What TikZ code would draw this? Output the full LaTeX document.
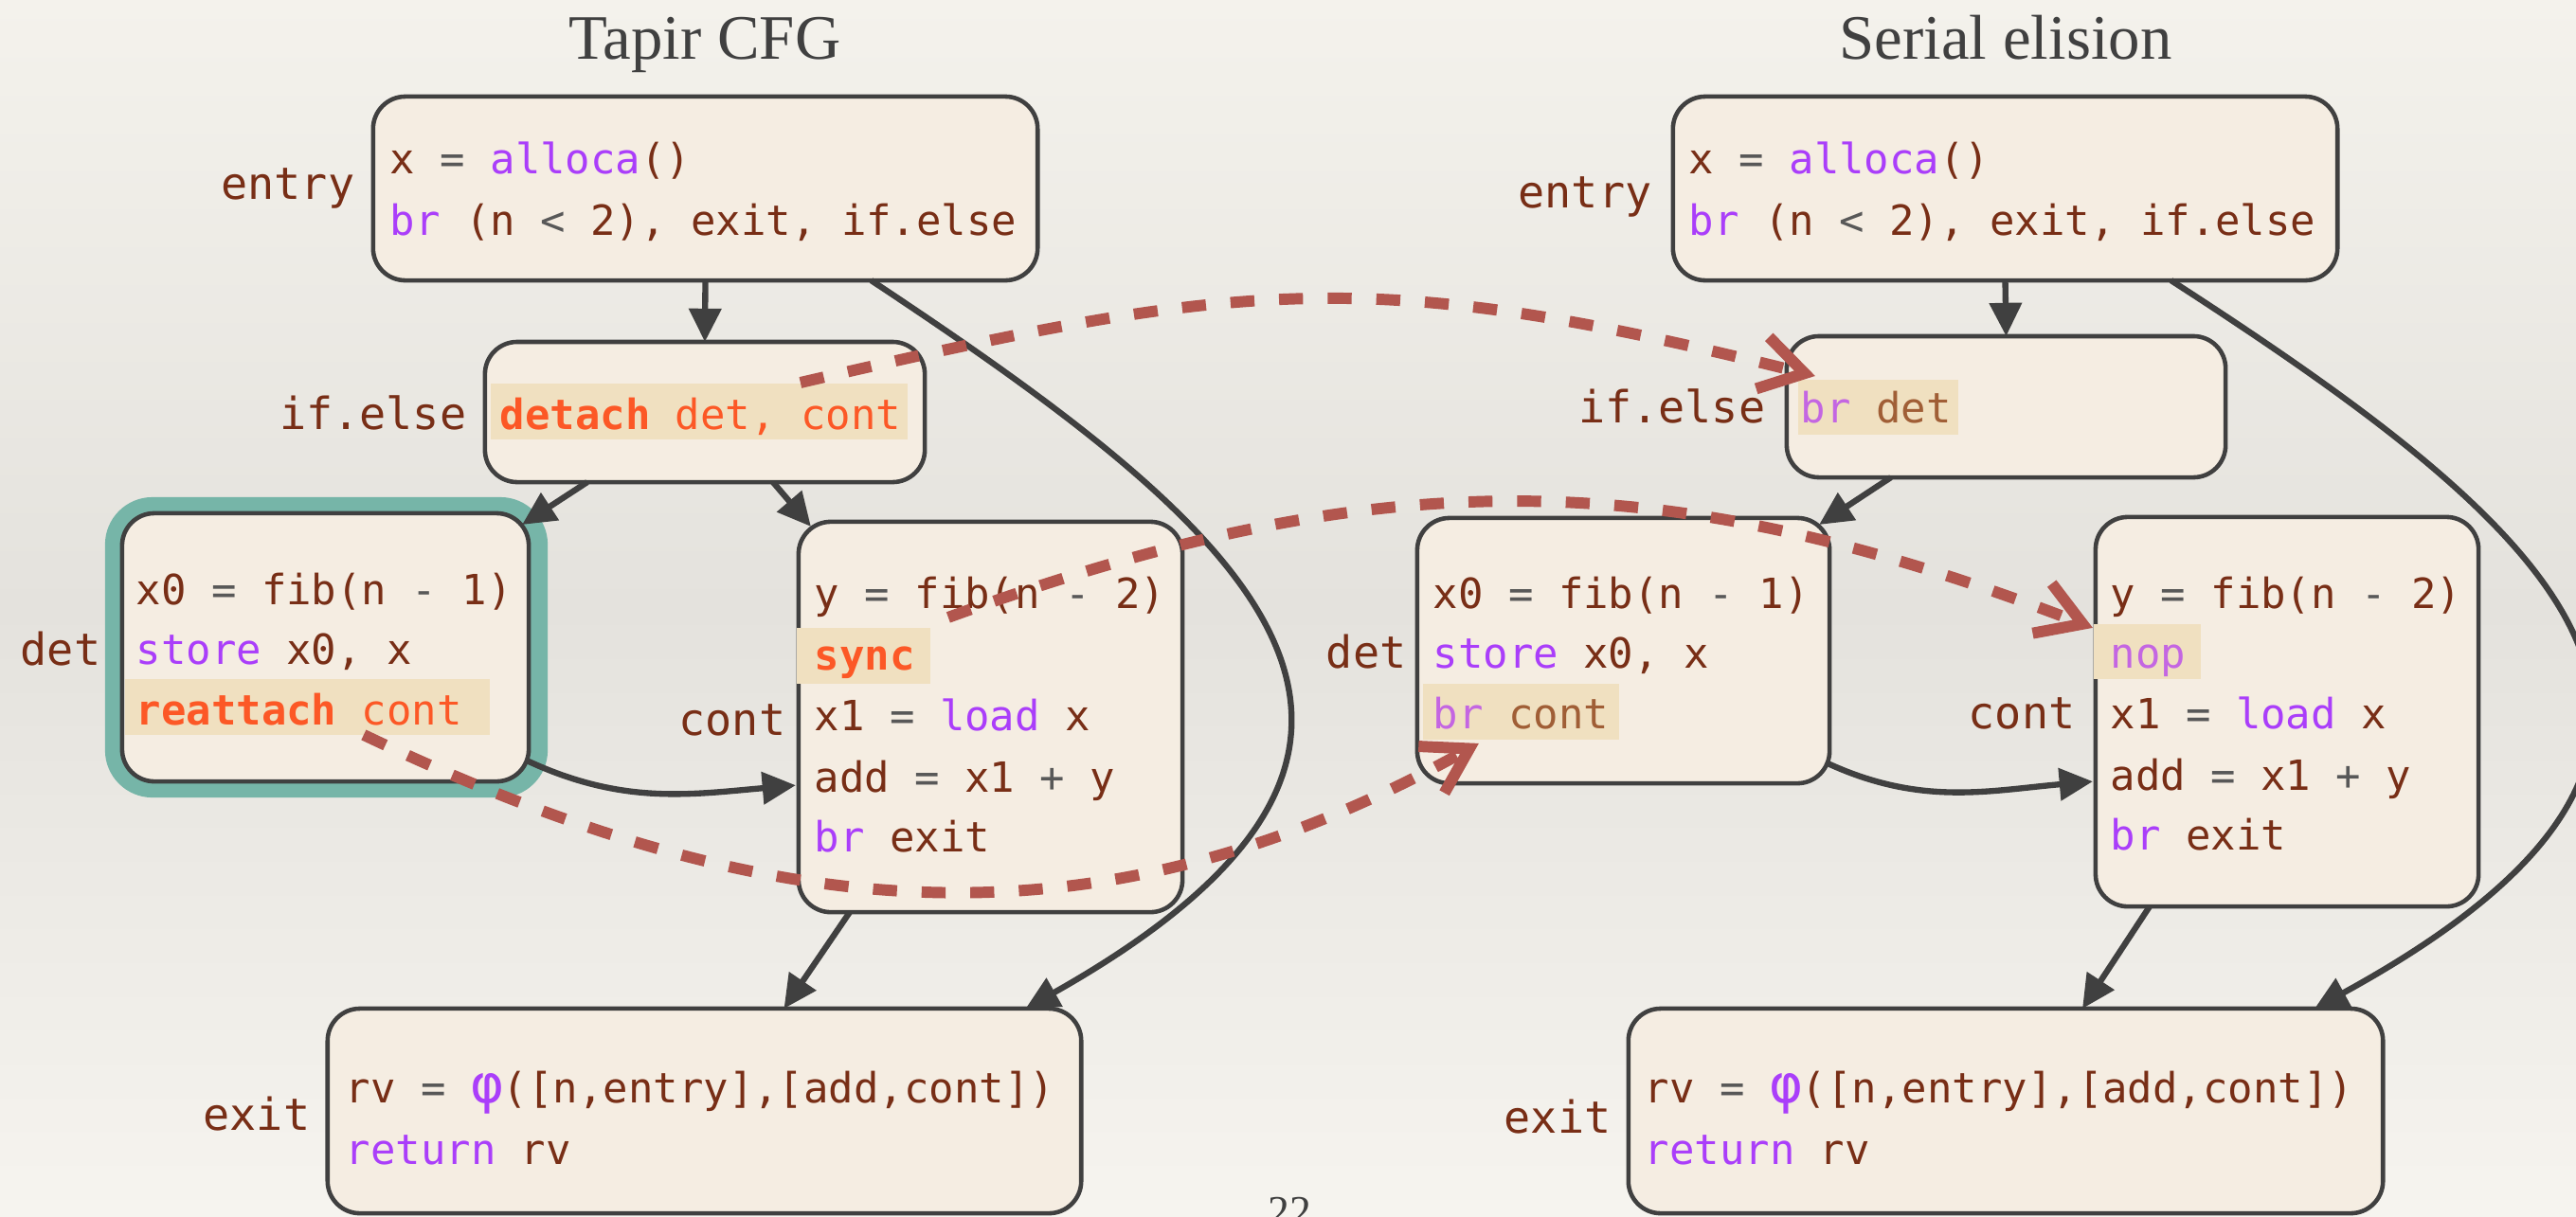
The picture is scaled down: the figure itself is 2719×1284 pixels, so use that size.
\documentclass[tikz,border=0pt]{standalone}
\usepackage{fontspec}
\setmainfont{Liberation Serif}
\newfontfamily\codefont{DejaVu Sans Mono}
\usetikzlibrary{arrows.meta,calc}

\definecolor{bgtop}{RGB}{244,242,236}
\definecolor{bgmid}{RGB}{228,226,221}
\definecolor{bgbot}{RGB}{246,244,239}
\definecolor{boxfill}{RGB}{245,237,226}
\definecolor{boxline}{RGB}{64,64,64}
\definecolor{codebrown}{RGB}{120,46,22}
\definecolor{kwpurple}{RGB}{170,62,250}
\definecolor{oppgray}{RGB}{88,88,88}
\definecolor{hotorange}{RGB}{252,88,38}
\definecolor{fadepurple}{RGB}{196,102,226}
\definecolor{fadebrown}{RGB}{160,94,54}
\definecolor{hlbg}{RGB}{240,224,192}
\definecolor{tealring}{RGB}{118,181,168}
\definecolor{dashred}{RGB}{178,86,78}
\definecolor{titlegray}{RGB}{64,64,64}

% syntax colouring for the IR listings
\newcommand\kwd[1]{\textcolor{kwpurple}{#1}}
\newcommand\opr[1]{\textcolor{oppgray}{#1}}
\newcommand\hot[1]{\textcolor{hotorange}{#1}}
\newcommand\hotb[1]{\textcolor{hotorange}{\bfseries #1}}
\newcommand\fkw[1]{\textcolor{fadepurple}{#1}}
\newcommand\fbr[1]{\textcolor{fadebrown}{#1}}
\newcommand\phisym{\textcolor{kwpurple}{\fontsize{16}{16}\selectfont φ}}

\begin{document}
\begin{tikzpicture}[x=0.01cm, y=-0.01cm,
  block/.style={draw=boxline, line width=1.3pt, fill=boxfill, rounded corners=0.34cm, inner sep=0pt, outer sep=0pt},
  codeline/.style={anchor=base west, inner sep=0pt, text=codebrown, font=\codefont\fontsize{12.5}{15}\selectfont},
  blocklabel/.style={anchor=base east, inner sep=0pt, text=codebrown, font=\codefont\fontsize{13.3}{16}\selectfont},
  paneltitle/.style={anchor=base, inner sep=0pt, text=titlegray, font=\fontsize{19}{22}\selectfont},
  flow/.style={draw=boxline, line width=1.8pt, -{Triangle[length=10pt,width=9.5pt]}},
  elide/.style={draw=dashred, line width=3.4pt, dash pattern=on 7.2pt off 7.4pt, -{Straight Barb[length=13pt,width=16pt]}},
  hilite/.style={fill=hlbg}]

% canvas
\useasboundingbox (0,0) rectangle (2719,1284);
\shade[top color=bgtop, bottom color=bgbot, middle color=bgmid] (0,0) rectangle (2719,1284);

% titles
\node[paneltitle] (titleL) at (744,62) {Tapir CFG};
\node[paneltitle] (titleR) at (2117,62) {Serial elision};

% ---------- Tapir CFG blocks ----------
\node[block, minimum width=7.01cm, minimum height=1.94cm] (entryL) at (744.5,199) {};
\node[block, minimum width=4.64cm, minimum height=1.48cm] (ifelseL) at (744,435) {};
\node[fill=tealring, rounded corners=0.5cm, minimum width=4.67cm, minimum height=3.17cm, inner sep=0pt, outer sep=0pt] (detring) at (344.5,683.5) {};
\node[block, minimum width=4.29cm, minimum height=2.83cm] (detL) at (343.5,683.5) {};
\node[block, minimum width=4.05cm, minimum height=4.12cm] (contL) at (1045.5,757) {};
\node[block, minimum width=7.95cm, minimum height=2.16cm] (exitL) at (743.5,1173) {};

% ---------- serial elision blocks ----------
\node[block, minimum width=7.01cm, minimum height=1.94cm] (entryR) at (2116.5,199) {};
\node[block, minimum width=4.63cm, minimum height=1.49cm] (ifelseR) at (2117.5,429.5) {};
\node[block, minimum width=4.35cm, minimum height=2.80cm] (detR) at (1713.5,687) {};
\node[block, minimum width=4.04cm, minimum height=4.11cm] (contR) at (2414,751.5) {};
\node[block, minimum width=7.96cm, minimum height=2.16cm] (exitR) at (2117,1173) {};

% highlighted instructions
\fill[hilite] (518,405) rectangle (958,464);
\fill[hilite] (132,717) rectangle (517,776);
\fill[hilite] (841,663) rectangle (982,722);
\fill[hilite] (1898,401) rectangle (2067,459);
\fill[hilite] (1502,722) rectangle (1709,781);
\fill[hilite] (2210,659) rectangle (2323,717);

% block labels
\node[blocklabel] (lbEntryL) at (375,210) {entry};
\node[blocklabel] (lbIfL) at (493,453) {if.else};
\node[blocklabel] (lbDetL) at (107,702) {det};
\node[blocklabel] (lbContL) at (830,776) {cont};
\node[blocklabel] (lbExitL) at (328,1193) {exit};
\node[blocklabel] (lbEntryR) at (1744,219) {entry};
\node[blocklabel] (lbIfR) at (1864,446) {if.else};
\node[blocklabel] (lbDetR) at (1485,705) {det};
\node[blocklabel] (lbContR) at (2191,769) {cont};
\node[blocklabel] (lbExitR) at (1701,1196) {exit};

% Tapir CFG code
\node[codeline] (eL1) at (411,183) {x \opr{=} \kwd{alloca}()};
\node[codeline] (eL2) at (411,248) {\kwd{br} (n \opr{<} 2), exit, if.else};
\node[codeline] (iL1) at (527,453) {\hotb{detach} \hot{det, cont}};
\node[codeline] (dL1) at (143,638) {x0 \opr{=} fib(n \opr{-} 1)};
\node[codeline] (dL2) at (143,701) {\kwd{store} x0, x};
\node[codeline] (dL3) at (143,765) {\hotb{reattach} \hot{cont}};
\node[codeline] (cL1) at (859,642) {y \opr{=} fib(n \opr{-} 2)};
\node[codeline] (cL2) at (859,707) {\hotb{sync}};
\node[codeline] (cL3) at (859,771) {x1 \opr{=} \kwd{load} x};
\node[codeline] (cL4) at (859,836) {add \opr{=} x1 \opr{+} y};
\node[codeline] (cL5) at (859,899) {\kwd{br} exit};
\node[codeline] (xL1) at (364,1164) {rv \opr{=} \phisym([n,entry],[add,cont])};
\node[codeline] (xL2) at (364,1229) {\kwd{return} rv};

% serial elision code
\node[codeline] (eR1) at (1782,183) {x \opr{=} \kwd{alloca}()};
\node[codeline] (eR2) at (1782,248) {\kwd{br} (n \opr{<} 2), exit, if.else};
\node[codeline] (iR1) at (1900,446) {\fkw{br} \fbr{det}};
\node[codeline] (dR1) at (1512,642) {x0 \opr{=} fib(n \opr{-} 1)};
\node[codeline] (dR2) at (1512,705) {\kwd{store} x0, x};
\node[codeline] (dR3) at (1512,769) {\fkw{br} \fbr{cont}};
\node[codeline] (cR1) at (2227,642) {y \opr{=} fib(n \opr{-} 2)};
\node[codeline] (cR2) at (2227,705) {\fkw{nop}};
\node[codeline] (cR3) at (2227,769) {x1 \opr{=} \kwd{load} x};
\node[codeline] (cR4) at (2227,834) {add \opr{=} x1 \opr{+} y};
\node[codeline] (cR5) at (2227,897) {\kwd{br} exit};
\node[codeline] (xR1) at (1735,1164) {rv \opr{=} \phisym([n,entry],[add,cont])};
\node[codeline] (xR2) at (1735,1229) {\kwd{return} rv};

% control-flow edges, Tapir CFG
\draw[flow] (entryL.south) -- (ifelseL.north);
\draw[flow] ($(ifelseL.south west)+(108,0)$) -- ($(detL.north east)+(-7,12)$);
\draw[flow] ($(ifelseL.south west)+(304,0)$) -- ($(contL.north west)+(13,5)$);
\draw[flow] ($(detL.south east)+(-2,-22)$) to[out=-25,in=185] ($(contL.south west)+(-3,-134)$);
\draw[flow] ($(contL.south west)+(54,0)$) -- ($(exitL.north)+(84,0)$);
\draw[flow] ($(entryL.south)+(175,0)$) .. controls +(400,265) and +(500,-282) .. ($(exitL.north)+(339,0)$);

% control-flow edges, serial elision
\draw[flow] (entryR.south) -- (ifelseR.north);
\draw[flow] ($(ifelseR.south west)+(110,0)$) -- ($(detR.north east)+(-11,7)$);
\draw[flow] ($(detR.south east)+(-4,-22)$) to[out=-25,in=185] ($(contR.south west)+(-3,-132)$);
\draw[flow] ($(contR.south west)+(57,0)$) -- ($(exitR.north)+(81,0)$);
\draw[flow] ($(entryR.south)+(175,0)$) .. controls +(410,265) and +(515,-282) .. ($(exitR.north)+(326,0)$);

% how each Tapir instruction maps into the serial elision
\draw[elide] ($(ifelseL.north west)+(333,43)$) .. controls +(470,-109) and +(-469,-117) .. ($(ifelseR.north west)+(30,42)$);
\draw[elide] ($(contL.north west)+(158,101)$) .. controls +(457,-166) and +(-452,-174) .. ($(contR.north west)+(-3,117)$);
\draw[elide] ($(detL.north west)+(255,234)$) .. controls +(422,201) and +(-409,227) .. ($(detR.north west)+(65,238)$);

% page number
\node[anchor=base, inner sep=0pt, text=titlegray, font=\fontsize{13}{13}\selectfont] (pagenum) at (1361,1294) {22};
\end{tikzpicture}
\end{document}
